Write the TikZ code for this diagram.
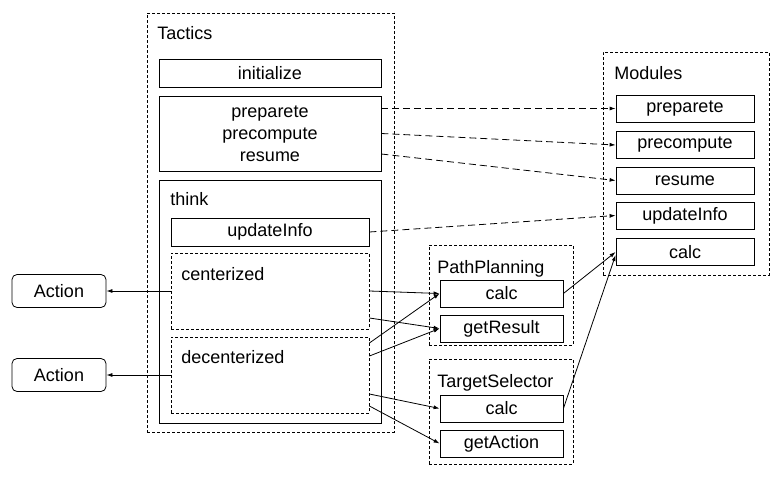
\documentclass[tikz,border=0pt]{standalone}
\usepackage{fontspec}
\setmainfont{Liberation Sans}
\usetikzlibrary{arrows.meta}

\begin{document}
\begin{tikzpicture}[x=1pt, y=-1pt, line width=0.8pt,
		font=\fontsize{18}{22}\selectfont,
		box/.style={draw, inner sep=0pt, align=center},
		group/.style={draw, inner sep=0pt, dash pattern=on 3pt off 2pt},
		label/.style={anchor=base west, inner sep=0pt},
		call/.style={-{Latex[length=6pt,width=4pt]}},
		module/.style={call, dash pattern=on 7pt off 4pt}]
		\useasboundingbox (0, 0) rectangle (777, 482);

		% Tactics
		\node[group, minimum width=247, minimum height=419] at (270.5, 222.5) (tactics) {};
		\node[label] at (157, 39) (tacticsl) {Tactics};
		\node[box, minimum width=222, minimum height=28] at (270, 73) (init) {initialize};
		\node[box, minimum width=222, minimum height=75] at (270, 133.5) (prep) {preparete\\precompute\\resume};
		\node[box, minimum width=222, minimum height=243] at (270, 301.5) (think) {};
		\node[label] at (170, 205) (thinkl) {think};
		\node[box, minimum width=198, minimum height=28] at (270, 232) (upd) {updateInfo};
		\node[group, minimum width=198, minimum height=76] at (270, 291) (cent) {};
		\node[label] at (181, 280) (centl) {centerized};
		\node[group, minimum width=198, minimum height=76] at (270, 375) (dec) {};
		\node[label] at (181, 363) (decl) {decenterized};

		% Actions
		\node[box, rounded corners=5pt, minimum width=94, minimum height=33] at (59, 291) (act1) {Action};
		\node[box, rounded corners=5pt, minimum width=94, minimum height=33] at (59, 375) (act2) {Action};

		% PathPlanning
		\node[group, minimum width=144, minimum height=100] at (501, 295) (pp) {};
		\node[label] at (437, 273) (ppl) {PathPlanning};
		\node[box, minimum width=123, minimum height=27] at (501.5, 293.5) (ppcalc) {calc};
		\node[box, minimum width=123, minimum height=27] at (501.5, 328.5) (ppget) {getResult};

		% TargetSelector
		\node[group, minimum width=144, minimum height=105] at (501, 411.5) (ts) {};
		\node[label] at (437, 387) (tsl) {TargetSelector};
		\node[box, minimum width=123, minimum height=27] at (501.5, 408.5) (tscalc) {calc};
		\node[box, minimum width=123, minimum height=27] at (501.5, 443.5) (tsget) {getAction};

		% Modules
		\node[group, minimum width=166, minimum height=223] at (686, 163.5) (mods) {};
		\node[label] at (614, 79) (modsl) {Modules};
		\node[box, minimum width=138, minimum height=27] at (685, 108.5) (mprep) {preparete};
		\node[box, minimum width=138, minimum height=27] at (685, 145) (mpre) {precompute};
		\node[box, minimum width=138, minimum height=27] at (685, 180.5) (mres) {resume};
		\node[box, minimum width=138, minimum height=27] at (685, 215.5) (mupd) {updateInfo};
		\node[box, minimum width=138, minimum height=27] at (685, 252) (mcalc) {calc};

		% draw edges
		\draw[module] ([yshift=25pt]prep.east) -- (mprep.west);
		\draw[module] (prep.east) -- (mpre.west);
		\draw[module] ([yshift=-20.5pt]prep.east) -- (mres.west);
		\draw[module] (upd.east) -- (mupd.west);

		\draw[call] (cent.west) -- (act1.east);
		\draw[call] (dec.west) -- (act2.east);

		\draw[call] (cent.east) -- (ppcalc.west);
		\draw[call] ([yshift=-27pt]cent.east) -- (ppget.west);
		\draw[call] ([yshift=32pt]dec.east) -- (ppcalc.west);
		\draw[call] ([yshift=19pt]dec.east) -- (ppget.west);
		\draw[call] ([yshift=-19pt]dec.east) -- (tscalc.west);
		\draw[call] ([yshift=-31pt]dec.east) -- (tsget.west);

		\draw[call] (ppcalc.east) -- (mcalc.west);
		\draw[call] (tscalc.east) -- ([yshift=-3pt]mcalc.west);
\end{tikzpicture}
\end{document}
